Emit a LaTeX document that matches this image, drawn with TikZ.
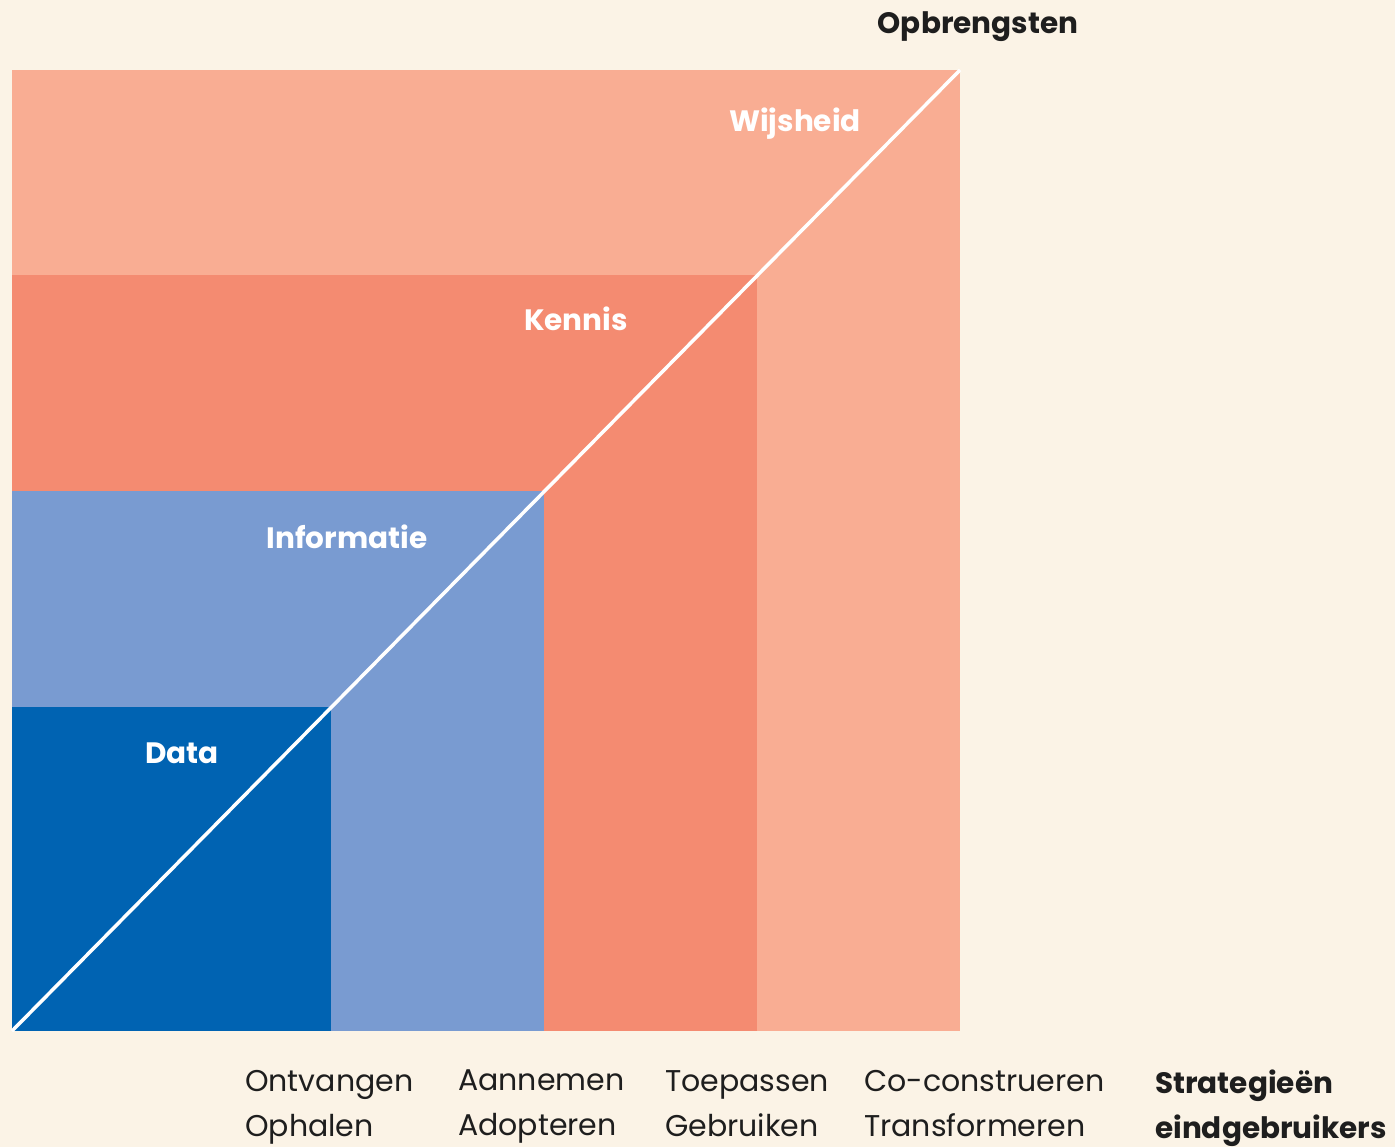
\documentclass[tikz,border=0pt]{standalone}
\usepackage{fontspec}
\setmainfont{Poppins}
\usetikzlibrary{calc}
\definecolor{bgcream}{HTML}{FBF3E6}
\definecolor{wijscol}{HTML}{F9AD93}
\definecolor{kenniscol}{HTML}{F48B71}
\definecolor{infocol}{HTML}{799BD1}
\definecolor{datacol}{HTML}{0063B2}
\definecolor{textcol}{HTML}{1E1E1E}

\begin{document}
\begin{tikzpicture}[x = 1pt, y = -1pt,
	levellabel/.style = {text = white, font = \fontsize{29.5}{34}\selectfont\bfseries},
	axislabel/.style = {text = textcol, anchor = north west, align = left, inner sep = 0pt, font = \fontsize{30}{45}\selectfont},
	axistitle/.style = {axislabel, font = \fontsize{29.5}{45}\selectfont\bfseries}]
	\useasboundingbox [fill = bgcream] (0, 0) rectangle (1395, 1147);
	\coordinate (o) at (12, 1031);
	% nested squares, all from the same corner
	\fill [wijscol] (o) rectangle (960, 70) coordinate (w);
	\fill [kenniscol] (o) rectangle (757, 275) coordinate (k);
	\fill [infocol] (o) rectangle (544, 491) coordinate (i);
	\fill [datacol] (o) rectangle (331, 707) coordinate (d);
	\draw [white, line width = 3.5pt] (o) -- (w);
	\node [levellabel] (wijsheid) at (795, 124) {Wijsheid};
	\node [levellabel] (kennis) at (576, 319) {Kennis};
	\node [levellabel] (informatie) at (347, 537) {Informatie};
	\node [levellabel] (data) at (182, 753) {Data};
	\node [axistitle, anchor = north] (opbrengsten) at (978, 11) {Opbrengsten};
	\node [axislabel] (ontvangen) at (245, 1070) {Ontvangen\\Ophalen};
	\node [axislabel] (aannemen) at (458, 1070) {Aannemen\\Adopteren};
	\node [axislabel] (toepassen) at (665, 1070) {Toepassen\\Gebruiken};
	\node [axislabel] (coconstrueren) at (864, 1070) {Co-construeren\\Transformeren};
	\node [axistitle] (strategieen) at (1155, 1070) {Strategieën\\eindgebruikers};
\end{tikzpicture}
\end{document}
